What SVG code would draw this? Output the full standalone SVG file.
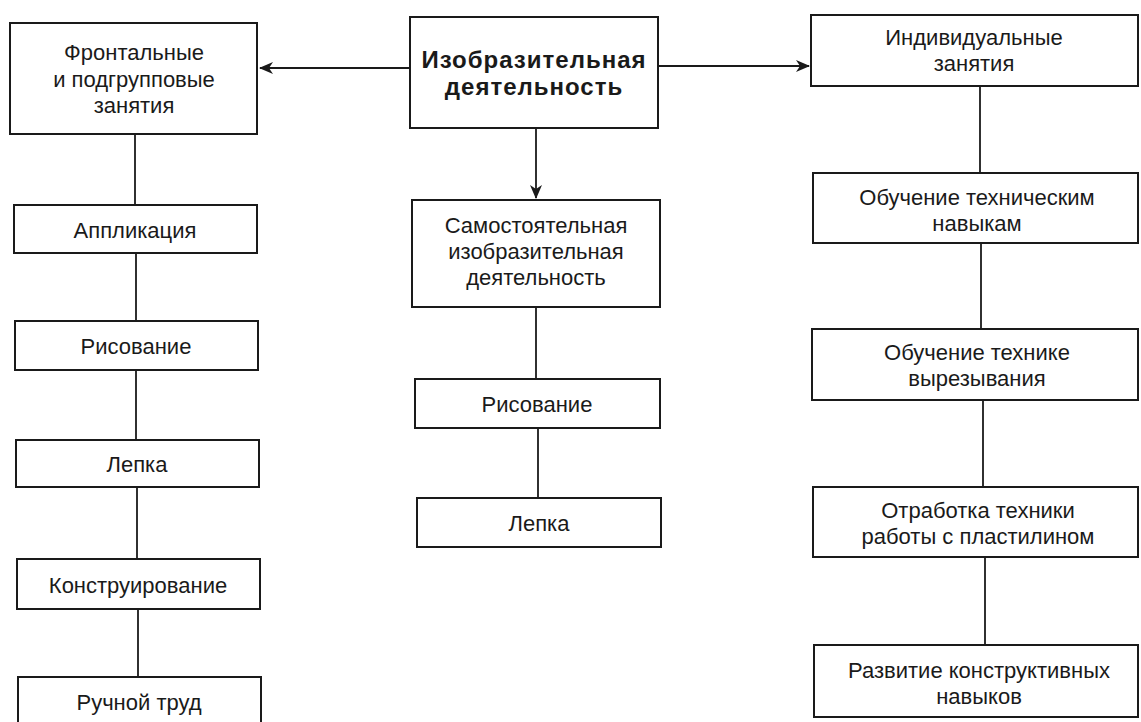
<svg xmlns="http://www.w3.org/2000/svg" width="1141" height="722" viewBox="0 0 1141 722">
<defs>
<style>
.box{fill:#fff;stroke:#1a1a1a;stroke-width:2}
.t{font-family:"Liberation Sans",Arial,sans-serif;font-size:22px;fill:#1a1a1a;text-anchor:middle}
.b{font-weight:bold;font-size:24px;letter-spacing:1px}
.c{stroke:#1a1a1a;stroke-width:1.8;fill:none}
</style>
<marker id="ah" viewBox="0 0 14 12" refX="13" refY="6" markerWidth="14" markerHeight="12" markerUnits="userSpaceOnUse" orient="auto">
<path d="M0,0 L14,6 L0,12 L4,6 Z" fill="#1a1a1a"/>
</marker>
</defs>
<rect width="1141" height="722" fill="#fff"/>
<g id="connectors">
<line class="c" x1="410" y1="68" x2="260" y2="68" marker-end="url(#ah)"/>
<line class="c" x1="658" y1="66" x2="809" y2="66" marker-end="url(#ah)"/>
<line class="c" x1="536" y1="128" x2="536" y2="198" marker-end="url(#ah)"/>
<line class="c" x1="135" y1="134" x2="135" y2="205"/>
<line class="c" x1="136" y1="253" x2="136" y2="321"/>
<line class="c" x1="136" y1="370" x2="136" y2="440"/>
<line class="c" x1="137" y1="487" x2="137" y2="559"/>
<line class="c" x1="138" y1="609" x2="138" y2="677"/>
<line class="c" x1="536" y1="307" x2="536" y2="379"/>
<line class="c" x1="538" y1="428" x2="538" y2="498"/>
<line class="c" x1="980" y1="86" x2="980" y2="173"/>
<line class="c" x1="981" y1="243" x2="981" y2="329"/>
<line class="c" x1="983" y1="400" x2="983" y2="487"/>
<line class="c" x1="985" y1="557" x2="985" y2="645"/>
</g>
<g id="n_frontal">
<rect class="box" x="10" y="23" width="247" height="111"/>
<text class="t" x="134" y="60">Фронтальные</text>
<text class="t" x="134" y="87">и подгрупповые</text>
<text class="t" x="134" y="113">занятия</text>
</g>
<g id="n_main">
<rect class="box" x="410" y="17" width="248" height="111"/>
<text class="t b" x="534" y="68">Изобразительная</text>
<text class="t b" x="534" y="95">деятельность</text>
</g>
<g id="n_indiv">
<rect class="box" x="811" y="15" width="327" height="71"/>
<text class="t" x="974" y="45">Индивидуальные</text>
<text class="t" x="974" y="71">занятия</text>
</g>
<g id="n_applik">
<rect class="box" x="14" y="205" width="243" height="48"/>
<text class="t" x="135" y="238">Аппликация</text>
</g>
<g id="n_risov1">
<rect class="box" x="15" y="321" width="243" height="49"/>
<text class="t" x="136" y="354">Рисование</text>
</g>
<g id="n_lepka1">
<rect class="box" x="16" y="440" width="243" height="47"/>
<text class="t" x="137" y="472">Лепка</text>
</g>
<g id="n_konstr">
<rect class="box" x="17" y="559" width="243" height="50"/>
<text class="t" x="138" y="593">Конструирование</text>
</g>
<g id="n_ruchnoi">
<rect class="box" x="18" y="677" width="243" height="60"/>
<text class="t" x="139" y="710">Ручной труд</text>
</g>
<g id="n_samost">
<rect class="box" x="412" y="200" width="248" height="107"/>
<text class="t" x="536" y="233">Самостоятельная</text>
<text class="t" x="536" y="259">изобразительная</text>
<text class="t" x="536" y="285">деятельность</text>
</g>
<g id="n_risov2">
<rect class="box" x="415" y="379" width="245" height="49"/>
<text class="t" x="537" y="412">Рисование</text>
</g>
<g id="n_lepka2">
<rect class="box" x="417" y="498" width="244" height="49"/>
<text class="t" x="539" y="531">Лепка</text>
</g>
<g id="n_tehnav">
<rect class="box" x="813" y="173" width="325" height="70"/>
<text class="t" x="977" y="205">Обучение техническим</text>
<text class="t" x="977" y="231">навыкам</text>
</g>
<g id="n_vyrez">
<rect class="box" x="812" y="329" width="326" height="71"/>
<text class="t" x="977" y="360">Обучение технике</text>
<text class="t" x="977" y="386">вырезывания</text>
</g>
<g id="n_plast">
<rect class="box" x="813" y="487" width="325" height="70"/>
<text class="t" x="978" y="518">Отработка техники</text>
<text class="t" x="978" y="544">работы с пластилином</text>
</g>
<g id="n_razv">
<rect class="box" x="814" y="645" width="324" height="72"/>
<text class="t" x="979" y="678">Развитие конструктивных</text>
<text class="t" x="979" y="704">навыков</text>
</g>
</svg>
